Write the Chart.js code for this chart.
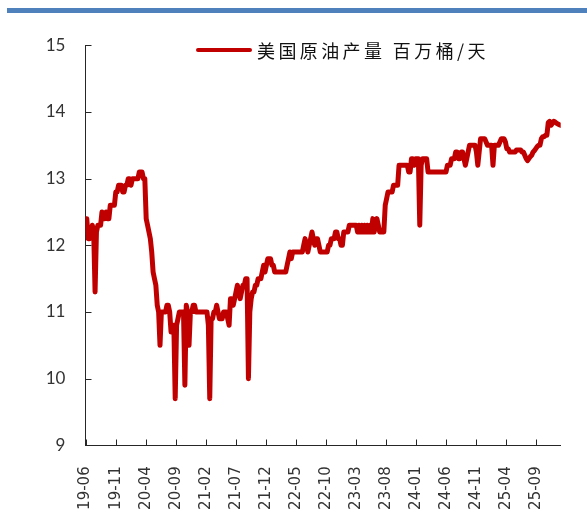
<!DOCTYPE html>
<html>
<head>
<meta charset="utf-8">
<script src="https://cdn.jsdelivr.net/npm/chart.js@4.4.1/dist/chart.umd.min.js"></script>
<style>
  html, body { margin: 0; padding: 0; background: #fff; }
  #wrap { position: relative; width: 587px; height: 515px; overflow: hidden; }
  #topbar { position: absolute; left: 7px; top: 8px; width: 580px; height: 5px; background: #4F81BD; }
  canvas { position: absolute; left: 0; top: 0; }
</style>
</head>
<body>
<div id="wrap">
  <div id="topbar"></div>
  <canvas id="chart" width="587" height="515"></canvas>
</div>
<script>
// US weekly crude oil production, million barrels per day
const seriesName = '美国原油产量 百万桶/天';

// x-axis labels (YY-MM), one every five months
const tickLabels = ['19-06', '19-11', '20-04', '20-09', '21-02', '21-07', '21-12', '22-05',
                    '22-10', '23-03', '23-08', '24-01', '24-06', '24-11', '25-04', '25-09'];

// first weekly observation (Friday) of each yearly block
const weekStarts = ['2019-05-31', '2020-01-03', '2021-01-01', '2022-01-07',
                    '2023-01-06', '2024-01-05', '2025-01-03', '2026-01-02'];

// weekly values for each block
const prod2019 = [12.4, 12.4, 12.1, 12.1, 12.2, 12.3, 12.2, 11.3, 12.2, 12.3,
                  12.3, 12.3, 12.5, 12.4, 12.4, 12.5, 12.4, 12.4, 12.6, 12.6,
                  12.6, 12.6, 12.8, 12.8, 12.9, 12.9, 12.9, 12.8, 12.8, 12.9, 12.9];
const prod2020 = [13.0, 13.0, 12.9, 13.0, 13.0, 13.0, 13.0, 13.0, 13.1, 13.1,
                  13.1, 13.0, 13.0, 12.4, 12.3, 12.2, 12.1, 11.9, 11.6, 11.5,
                  11.4, 11.1, 11.0, 10.5, 11.0, 11.0, 11.0, 11.0, 11.1, 11.1,
                  11.0, 10.7, 10.7, 10.8, 9.7, 10.8, 10.9, 11.0, 11.0, 11.0,
                  11.0, 9.9, 11.1, 11.0, 10.5, 11.0, 11.0, 11.1, 11.1, 11.0,
                  11.0, 11.0];
const prod2021 = [11.0, 11.0, 11.0, 11.0, 11.0, 11.0, 10.8, 9.7, 10.9, 10.9,
                  11.0, 11.0, 11.1, 11.0, 10.9, 10.9, 10.9, 11.0, 11.0, 11.0,
                  10.9, 10.8, 11.2, 11.2, 11.1, 11.2, 11.3, 11.4, 11.3, 11.2,
                  11.3, 11.4, 11.4, 11.5, 11.5, 10.0, 11.0, 11.2, 11.3, 11.3,
                  11.4, 11.4, 11.5, 11.5, 11.5, 11.6, 11.7, 11.6, 11.7, 11.8,
                  11.8, 11.8, 11.7];
const prod2022 = [11.7, 11.6, 11.6, 11.6, 11.6, 11.6, 11.6, 11.6, 11.6, 11.6,
                  11.7, 11.8, 11.9, 11.8, 11.9, 11.9, 11.9, 11.9, 11.9, 11.9,
                  11.9, 11.9, 12.0, 12.1, 12.0, 11.9, 12.0, 12.1, 12.2, 12.1,
                  12.0, 12.1, 12.1, 12.0, 11.9, 11.9, 11.9, 11.9, 11.9, 11.9,
                  12.0, 12.0, 12.1, 12.1, 12.1, 12.2, 12.2, 12.1, 12.1, 12.0,
                  12.0, 12.2];
const prod2023 = [12.2, 12.2, 12.2, 12.3, 12.3, 12.3, 12.3, 12.3, 12.3, 12.2,
                  12.3, 12.2, 12.3, 12.2, 12.3, 12.2, 12.3, 12.2, 12.3, 12.2,
                  12.4, 12.2, 12.3, 12.4, 12.3, 12.2, 12.2, 12.2, 12.2, 12.6,
                  12.7, 12.8, 12.8, 12.8, 12.8, 12.9, 12.9, 12.9, 12.9, 13.2,
                  13.2, 13.2, 13.2, 13.2, 13.2, 13.2, 13.1, 13.1, 13.3, 13.3,
                  13.2, 13.3];
const prod2024 = [13.3, 13.3, 12.3, 13.2, 13.3, 13.3, 13.3, 13.3, 13.1, 13.1,
                  13.1, 13.1, 13.1, 13.1, 13.1, 13.1, 13.1, 13.1, 13.1, 13.1,
                  13.1, 13.1, 13.2, 13.2, 13.2, 13.3, 13.3, 13.3, 13.4, 13.4,
                  13.3, 13.3, 13.4, 13.4, 13.3, 13.2, 13.3, 13.4, 13.5, 13.5,
                  13.5, 13.5, 13.5, 13.4, 13.2, 13.4, 13.6, 13.6, 13.6, 13.6,
                  13.55, 13.5];
const prod2025 = [13.5, 13.5, 13.5, 13.2, 13.5, 13.5, 13.5, 13.5, 13.55, 13.6,
                  13.6, 13.6, 13.55, 13.45, 13.45, 13.4, 13.4, 13.4, 13.4, 13.4,
                  13.43, 13.43, 13.43, 13.43, 13.4, 13.4, 13.35, 13.3, 13.27, 13.3,
                  13.33, 13.35, 13.4, 13.42, 13.45, 13.48, 13.5, 13.5, 13.6, 13.63,
                  13.63, 13.65, 13.65, 13.84, 13.86, 13.8, 13.83, 13.86, 13.85, 13.83,
                  13.82, 13.81];
const prod2026 = [13.8];

const yearBlocks = [prod2019, prod2020, prod2021, prod2022, prod2023, prod2024, prod2025, prod2026];

// day number helpers
const dayOf = (iso) => {
  const [y, m, d] = iso.split('-').map(Number);
  return Date.UTC(y, m - 1, d) / 86400000;
};
const tickDays = tickLabels.map(t => {
  const [yy, mm] = t.split('-').map(Number);
  return Date.UTC(2000 + yy, mm - 1, 1) / 86400000;
});

const points = [];
yearBlocks.forEach((vals, k) => {
  const d0 = dayOf(weekStarts[k]);
  vals.forEach((v, i) => points.push({ x: d0 + 7 * i, y: v }));
});

const xMin = points[0].x;
const xMax = points[points.length - 1].x;

const LEFT_W = 85.4;      // width reserved for the value axis
const BOTTOM_H = 69.7;    // height reserved for the date axis
const TICK_LEN = 6;

// inward tick marks on both axes
const innerTicks = {
  id: 'innerTicks',
  afterDraw(chart) {
    const ctx = chart.ctx;
    const xs = chart.scales.x, ys = chart.scales.y;
    const ca = chart.chartArea;
    ctx.save();
    ctx.strokeStyle = '#262626';
    ctx.lineWidth = 1;
    ctx.beginPath();
    ys.ticks.forEach(t => {
      const py = Math.round(ys.getPixelForValue(t.value)) + 0.5;
      const px = Math.round(ca.left) + 0.5;
      ctx.moveTo(px, py);
      ctx.lineTo(px + TICK_LEN, py);
    });
    xs.ticks.forEach(t => {
      const px = Math.round(xs.getPixelForValue(t.value)) + 0.5;
      const py = Math.round(ca.bottom) + 0.5;
      ctx.moveTo(px, py);
      ctx.lineTo(px, py - TICK_LEN);
    });
    ctx.stroke();
    ctx.restore();
  }
};

// legend drawn inside the plot, top centre
const inlineLegend = {
  id: 'inlineLegend',
  afterDraw(chart) {
    const ctx = chart.ctx;
    const ds = chart.data.datasets[0];
    ctx.save();
    ctx.strokeStyle = ds.borderColor;
    ctx.lineWidth = 4;
    ctx.lineCap = 'round';
    ctx.beginPath();
    ctx.moveTo(198, 50);
    ctx.lineTo(250, 50);
    ctx.stroke();
    ctx.fillStyle = '#111';
    ctx.font = '18px "Noto Sans CJK SC"';
    ctx.textBaseline = 'middle';
    ctx.textAlign = 'left';
    if ('letterSpacing' in ctx) ctx.letterSpacing = '3.4px';
    ctx.fillText(ds.label, 257, 51);
    ctx.restore();
  }
};

new Chart(document.getElementById('chart'), {
  type: 'line',
  data: {
    datasets: [{
      label: seriesName,
      data: points,
      borderColor: '#C00000',
      borderWidth: 5,
      pointRadius: 0,
      pointHoverRadius: 0,
      tension: 0,
      fill: false,
      borderJoinStyle: 'round',
      borderCapStyle: 'round'
    }]
  },
  options: {
    responsive: false,
    animation: false,
    devicePixelRatio: 1,
    layout: { padding: { left: 0, right: 587 - 560.7, top: 45.3, bottom: 0 } },
    plugins: {
      legend: { display: false },
      tooltip: { enabled: false },
      title: { display: false }
    },
    scales: {
      x: {
        type: 'linear',
        min: xMin,
        max: xMax,
        afterBuildTicks(scale) {
          scale.ticks = tickDays.map(v => ({ value: v }));
        },
        afterFit(scale) { scale.height = BOTTOM_H; },
        grid: { display: false, drawTicks: false },
        border: { display: true, color: '#262626', width: 1 },
        ticks: {
          autoSkip: false,
          minRotation: 90,
          maxRotation: 90,
          padding: 21,
          color: '#333',
          font: { family: '"DejaVu Sans"', size: 15 },
          callback: (value, index) => tickLabels[index]
        }
      },
      y: {
        min: 9,
        max: 15,
        afterFit(scale) { scale.width = LEFT_W; },
        grid: { display: false, drawTicks: false },
        border: { display: true, color: '#262626', width: 1 },
        ticks: {
          stepSize: 1,
          padding: 20,
          color: '#333',
          font: { family: 'Lato', size: 17 }
        }
      }
    }
  },
  plugins: [innerTicks, inlineLegend]
});
</script>
</body>
</html>
